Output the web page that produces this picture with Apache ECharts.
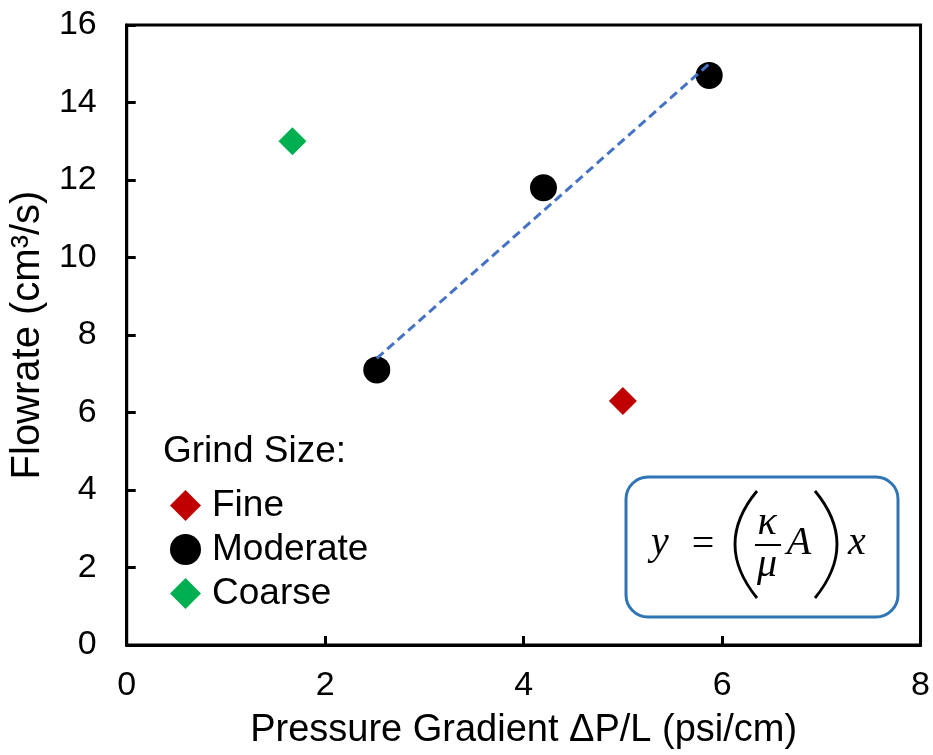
<!DOCTYPE html>
<html>
<head>
<meta charset="utf-8">
<script src="https://cdn.jsdelivr.net/npm/echarts@6/dist/echarts.min.js"></script>
<style>
  html, body { margin: 0; padding: 0; background: #fff; }
  #chart { width: 933px; height: 755px; }
</style>
</head>
<body>
<div id="chart"></div>
<script>
// Flowrate vs pressure gradient by grind size
const xTicks = [0, 2, 4, 6, 8];
const yTicks = [0, 2, 4, 6, 8, 10, 12, 14, 16];

const fineX = [5.0];
const fineY = [6.3];
const moderateX = [2.52, 4.2, 5.87];
const moderateY = [7.1, 11.8, 14.7];
const coarseX = [1.67];
const coarseY = [13.0];

const seriesNames = ['Fine', 'Moderate', 'Coarse'];

const pairs = (xs, ys) => xs.map((x, i) => [x, ys[i]]);

// Least-squares line through the moderate grind points
function linearFit(xs, ys) {
  const n = xs.length;
  const mx = xs.reduce((a, b) => a + b, 0) / n;
  const my = ys.reduce((a, b) => a + b, 0) / n;
  let sxy = 0, sxx = 0;
  for (let i = 0; i < n; i++) {
    sxy += (xs[i] - mx) * (ys[i] - my);
    sxx += (xs[i] - mx) * (xs[i] - mx);
  }
  const slope = sxy / sxx;
  const icpt = my - slope * mx;
  const x0 = Math.min(...xs), x1 = Math.max(...xs);
  return [[x0, icpt + slope * x0], [x1, icpt + slope * x1]];
}

const SANS = '"Liberation Sans", Arial, sans-serif';
const SERIF = '"Liberation Serif", "Times New Roman", serif';

const chart = echarts.init(document.getElementById('chart'));

const eqStyle = (text, italic) => ({
  text: text,
  font: (italic ? 'italic ' : '') + '40px ' + SERIF,
  align: 'center',
  verticalAlign: 'middle',
  fill: '#000'
});

chart.setOption({
  animation: false,
  backgroundColor: '#fff',
  grid: {
    left: 124, right: 12, top: 25, bottom: 108,
    show: true, borderColor: '#000', borderWidth: 3, backgroundColor: 'transparent'
  },
  xAxis: {
    type: 'value',
    min: xTicks[0], max: xTicks[xTicks.length - 1], interval: 2,
    name: 'Pressure Gradient \u0394P/L (psi/cm)',
    nameLocation: 'middle', nameGap: 67,
    nameTextStyle: { fontFamily: SANS, fontSize: 38, color: '#000' },
    axisLine: { show: true, lineStyle: { color: '#000', width: 3 } },
    axisTick: { show: true, inside: true, length: 9, lineStyle: { color: '#000', width: 3 } },
    axisLabel: { fontFamily: SANS, fontSize: 34, color: '#000', margin: 24 },
    splitLine: { show: false }
  },
  yAxis: {
    type: 'value',
    min: yTicks[0], max: yTicks[yTicks.length - 1], interval: 2,
    name: 'Flowrate (cm\u00B3/s)',
    nameLocation: 'middle', nameGap: 76, nameRotate: 90,
    nameTextStyle: { fontFamily: SANS, fontSize: 40, color: '#000' },
    axisLine: { show: true, lineStyle: { color: '#000', width: 3 } },
    axisTick: { show: true, inside: true, length: 9, lineStyle: { color: '#000', width: 3 } },
    axisLabel: { fontFamily: SANS, fontSize: 34, color: '#000', margin: 30 },
    splitLine: { show: false }
  },
  legend: {
    data: seriesNames,
    orient: 'vertical',
    left: 165, top: 482,
    itemWidth: 31, itemHeight: 31, itemGap: 7,
    textStyle: { fontFamily: SANS, fontSize: 37, color: '#000', padding: [0, 0, 0, 6] }
  },
  series: [
    {
      name: 'Fine', type: 'scatter', symbol: 'diamond', symbolSize: 28,
      itemStyle: { color: '#C00000', opacity: 1 }, data: pairs(fineX, fineY), z: 3
    },
    {
      name: 'Moderate', type: 'scatter', symbol: 'circle', symbolSize: 27,
      itemStyle: { color: '#000000', opacity: 1 }, data: pairs(moderateX, moderateY), z: 3
    },
    {
      name: 'Coarse', type: 'scatter', symbol: 'diamond', symbolSize: 28,
      itemStyle: { color: '#00B050', opacity: 1 }, data: pairs(coarseX, coarseY), z: 3
    },
    {
      name: 'Linear fit', type: 'line', showSymbol: false, symbol: 'none',
      data: linearFit(moderateX, moderateY), z: 4,
      lineStyle: { color: '#4472C4', width: 3, type: [9, 5] }
    }
  ],
  graphic: {
    elements: [
      {
        type: 'text', x: 163, y: 452, z: 10,
        style: { text: 'Grind Size:', font: '37px ' + SANS, align: 'left', verticalAlign: 'middle', fill: '#000' }
      },
      {
        type: 'rect', z: 10,
        shape: { x: 626, y: 477, width: 272, height: 140, r: 22 },
        style: { fill: '#fff', stroke: '#2E75B6', lineWidth: 3 }
      },
      { type: 'text', x: 660, y: 543, z: 11, style: eqStyle('y', true) },
      { type: 'text', x: 703, y: 545, z: 11, style: eqStyle('=', false) },
      {
        type: 'bezierCurve', z: 11,
        shape: { x1: 757, y1: 491, x2: 757, y2: 598, cpx1: 713, cpy1: 544 },
        style: { stroke: '#000', lineWidth: 2.8, fill: null }
      },
      { type: 'text', x: 767, y: 523, z: 11, style: eqStyle('\u03BA', true) },
      {
        type: 'line', z: 11,
        shape: { x1: 755, y1: 545, x2: 781, y2: 545 },
        style: { stroke: '#000', lineWidth: 2 }
      },
      { type: 'text', x: 767, y: 565, z: 11, style: eqStyle('\u03BC', true) },
      { type: 'text', x: 799, y: 543, z: 11, style: eqStyle('A', true) },
      {
        type: 'bezierCurve', z: 11,
        shape: { x1: 815, y1: 491, x2: 815, y2: 598, cpx1: 859, cpy1: 544 },
        style: { stroke: '#000', lineWidth: 2.8, fill: null }
      },
      { type: 'text', x: 857, y: 543, z: 11, style: eqStyle('x', true) }
    ]
  }
});
</script>
</body>
</html>
